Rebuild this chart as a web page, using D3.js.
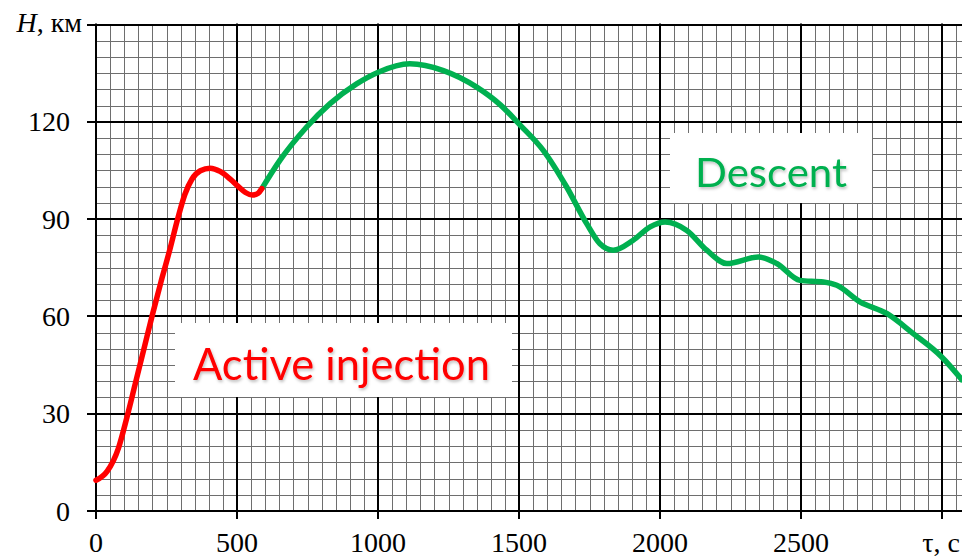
<!DOCTYPE html>
<html>
<head>
<meta charset="utf-8">
<script src="https://cdn.jsdelivr.net/npm/d3@7"></script>
<style>
  body { margin: 0; background: #fff; }
  svg { display: block; }
  .tick-label { font-family: "Liberation Serif", "Times New Roman", serif; font-size: 28px; fill: #000; }
  .note { font-family: Lato, "Open Sans", sans-serif; }
</style>
</head>
<body>
<figure id="chart" style="margin:0"></figure>
<script>
// active injection (red) part
var injTime   = [0, 40, 80, 110, 140, 170, 200, 230, 260, 290, 315, 340, 370, 405, 440, 475, 505, 530, 555, 575, 588];
var injHeight = [9.5, 12.3, 19.5, 29, 39.5, 50, 60.5, 70.5, 80, 90.2, 97.6, 102.3, 104.9, 105.7, 104.7, 102.4, 100.0, 98.2, 97.4, 98.0, 99.4];

// descent (green) part
var descTime   = [588, 652, 747, 830, 924, 1001, 1113, 1232, 1350, 1433, 1504, 1586, 1669, 1740, 1787, 1834, 1905, 1965, 2018, 2095, 2166, 2237, 2349, 2414, 2496, 2579, 2627, 2709, 2804, 2898, 2999, 3075];
var descHeight = [99.4, 108.1, 118.4, 125.6, 131.7, 135.3, 137.9, 135.8, 130.7, 125.3, 119.0, 111.2, 99.9, 88.6, 82.4, 80.4, 83.5, 87.6, 89.1, 86.5, 80.4, 76.3, 78.3, 76.3, 71.1, 70.6, 69.6, 64.5, 60.9, 54.7, 47.5, 40.0];

var xTicks = [0, 500, 1000, 1500, 2000, 2500];
var yTicks = [0, 30, 60, 90, 120];
var xUnitLabel = "τ, с";
var yUnitLabel = "км";

var dimensions = {
    width: 962,
    height: 557,
    left: 96,
    bottom: 511,
    top: 24.5
};

var svg = d3.select("figure#chart")
    .append("svg")
    .attr("width", dimensions.width)
    .attr("height", dimensions.height);

var xScale = d3.scaleLinear()
    .domain([0, 3000])
    .range([dimensions.left, 942]);

var yScale = d3.scaleLinear()
    .domain([0, 150])
    .range([dimensions.bottom, dimensions.top]);

var xMax = xScale.invert(dimensions.width);
var px = v => Math.round(v) + 0.5; // crisp 1px lines

// minor grid
var grid = svg.append("g");
grid.selectAll("line.vmin")
    .data(d3.range(50, xMax, 50).filter(d => d % 500 != 0))
    .enter().append("line")
    .attr("x1", d => px(xScale(d))).attr("x2", d => px(xScale(d)))
    .attr("y1", yScale(150)).attr("y2", yScale(0))
    .attr("stroke", "#6e6e6e").attr("stroke-width", 1);
grid.selectAll("line.hmin")
    .data(d3.range(5, 150, 5).filter(d => d % 30 != 0))
    .enter().append("line")
    .attr("x1", xScale(0)).attr("x2", dimensions.width)
    .attr("y1", d => px(yScale(d))).attr("y2", d => px(yScale(d)))
    .attr("stroke", "#6e6e6e").attr("stroke-width", 1);

// major grid + ticks
grid.selectAll("line.vmaj")
    .data(d3.range(0, xMax, 500))
    .enter().append("line")
    .attr("x1", d => Math.round(xScale(d))).attr("x2", d => Math.round(xScale(d)))
    .attr("y1", yScale(150) - 1).attr("y2", yScale(0) + 8)
    .attr("stroke", "#000").attr("stroke-width", 2);
grid.selectAll("line.hmaj")
    .data(d3.range(0, 151, 30))
    .enter().append("line")
    .attr("x1", xScale(0) - 9).attr("x2", dimensions.width)
    .attr("y1", d => Math.round(yScale(d))).attr("y2", d => Math.round(yScale(d)))
    .attr("stroke", "#000").attr("stroke-width", 2);

// tick labels
svg.selectAll("text.xt")
    .data(xTicks)
    .enter().append("text")
    .attr("class", "tick-label")
    .attr("x", d => xScale(d))
    .attr("y", 552)
    .attr("text-anchor", "middle")
    .text(d => d);
svg.append("text")
    .attr("class", "tick-label")
    .attr("x", xScale(3000) - 1)
    .attr("y", 552)
    .attr("text-anchor", "middle")
    .text(xUnitLabel);

svg.selectAll("text.yt")
    .data(yTicks)
    .enter().append("text")
    .attr("class", "tick-label")
    .attr("x", 70)
    .attr("y", d => yScale(d) + 9.5)
    .attr("text-anchor", "end")
    .text(d => d);
var yl = svg.append("text")
    .attr("class", "tick-label")
    .attr("x", 82)
    .attr("y", 32)
    .attr("font-size", 29)
    .attr("text-anchor", "end");
yl.append("tspan").attr("font-style", "italic").text("H");
yl.append("tspan").text(", " + yUnitLabel);

// curves
var line = d3.line()
    .x(d => xScale(d[0]))
    .y(d => yScale(d[1]))
    .curve(d3.curveMonotoneX);

var plot = svg.append("g");
plot.append("path")
    .datum(descTime.map((t, i) => [t, descHeight[i]]))
    .attr("d", line)
    .attr("fill", "none")
    .attr("stroke", "#00B050")
    .attr("stroke-width", 5.5)
    .attr("stroke-linejoin", "round");
plot.append("path")
    .datum(injTime.map((t, i) => [t, injHeight[i]]))
    .attr("d", line)
    .attr("fill", "none")
    .attr("stroke", "#FF0000")
    .attr("stroke-width", 5.5)
    .attr("stroke-linecap", "round")
    .attr("stroke-linejoin", "round");

// shadow for the notes
var defs = svg.append("defs");
defs.append("filter")
    .attr("id", "shadow")
    .attr("x", "-10%").attr("y", "-20%").attr("width", "120%").attr("height", "150%")
    .append("feDropShadow")
    .attr("dx", 1).attr("dy", 2).attr("stdDeviation", 1.5)
    .attr("flood-color", "#000").attr("flood-opacity", 0.25);

// note boxes
svg.append("rect")
    .attr("x", 175).attr("y", 323).attr("width", 337).attr("height", 74)
    .attr("fill", "#fff");
svg.append("text")
    .attr("class", "note")
    .attr("x", 193).attr("y", 380)
    .attr("font-size", 44)
    .attr("textLength", 297)
    .attr("lengthAdjust", "spacingAndGlyphs")
    .attr("fill", "#FF0000")
    .attr("filter", "url(#shadow)")
    .text("Active injection");

svg.append("rect")
    .attr("x", 670).attr("y", 133).attr("width", 202).attr("height", 70)
    .attr("fill", "#fff");
svg.append("text")
    .attr("class", "note")
    .attr("x", 695).attr("y", 187)
    .attr("font-size", 40)
    .attr("textLength", 152)
    .attr("lengthAdjust", "spacingAndGlyphs")
    .attr("fill", "#00B050")
    .attr("filter", "url(#shadow)")
    .text("Descent");
</script>
</body>
</html>
